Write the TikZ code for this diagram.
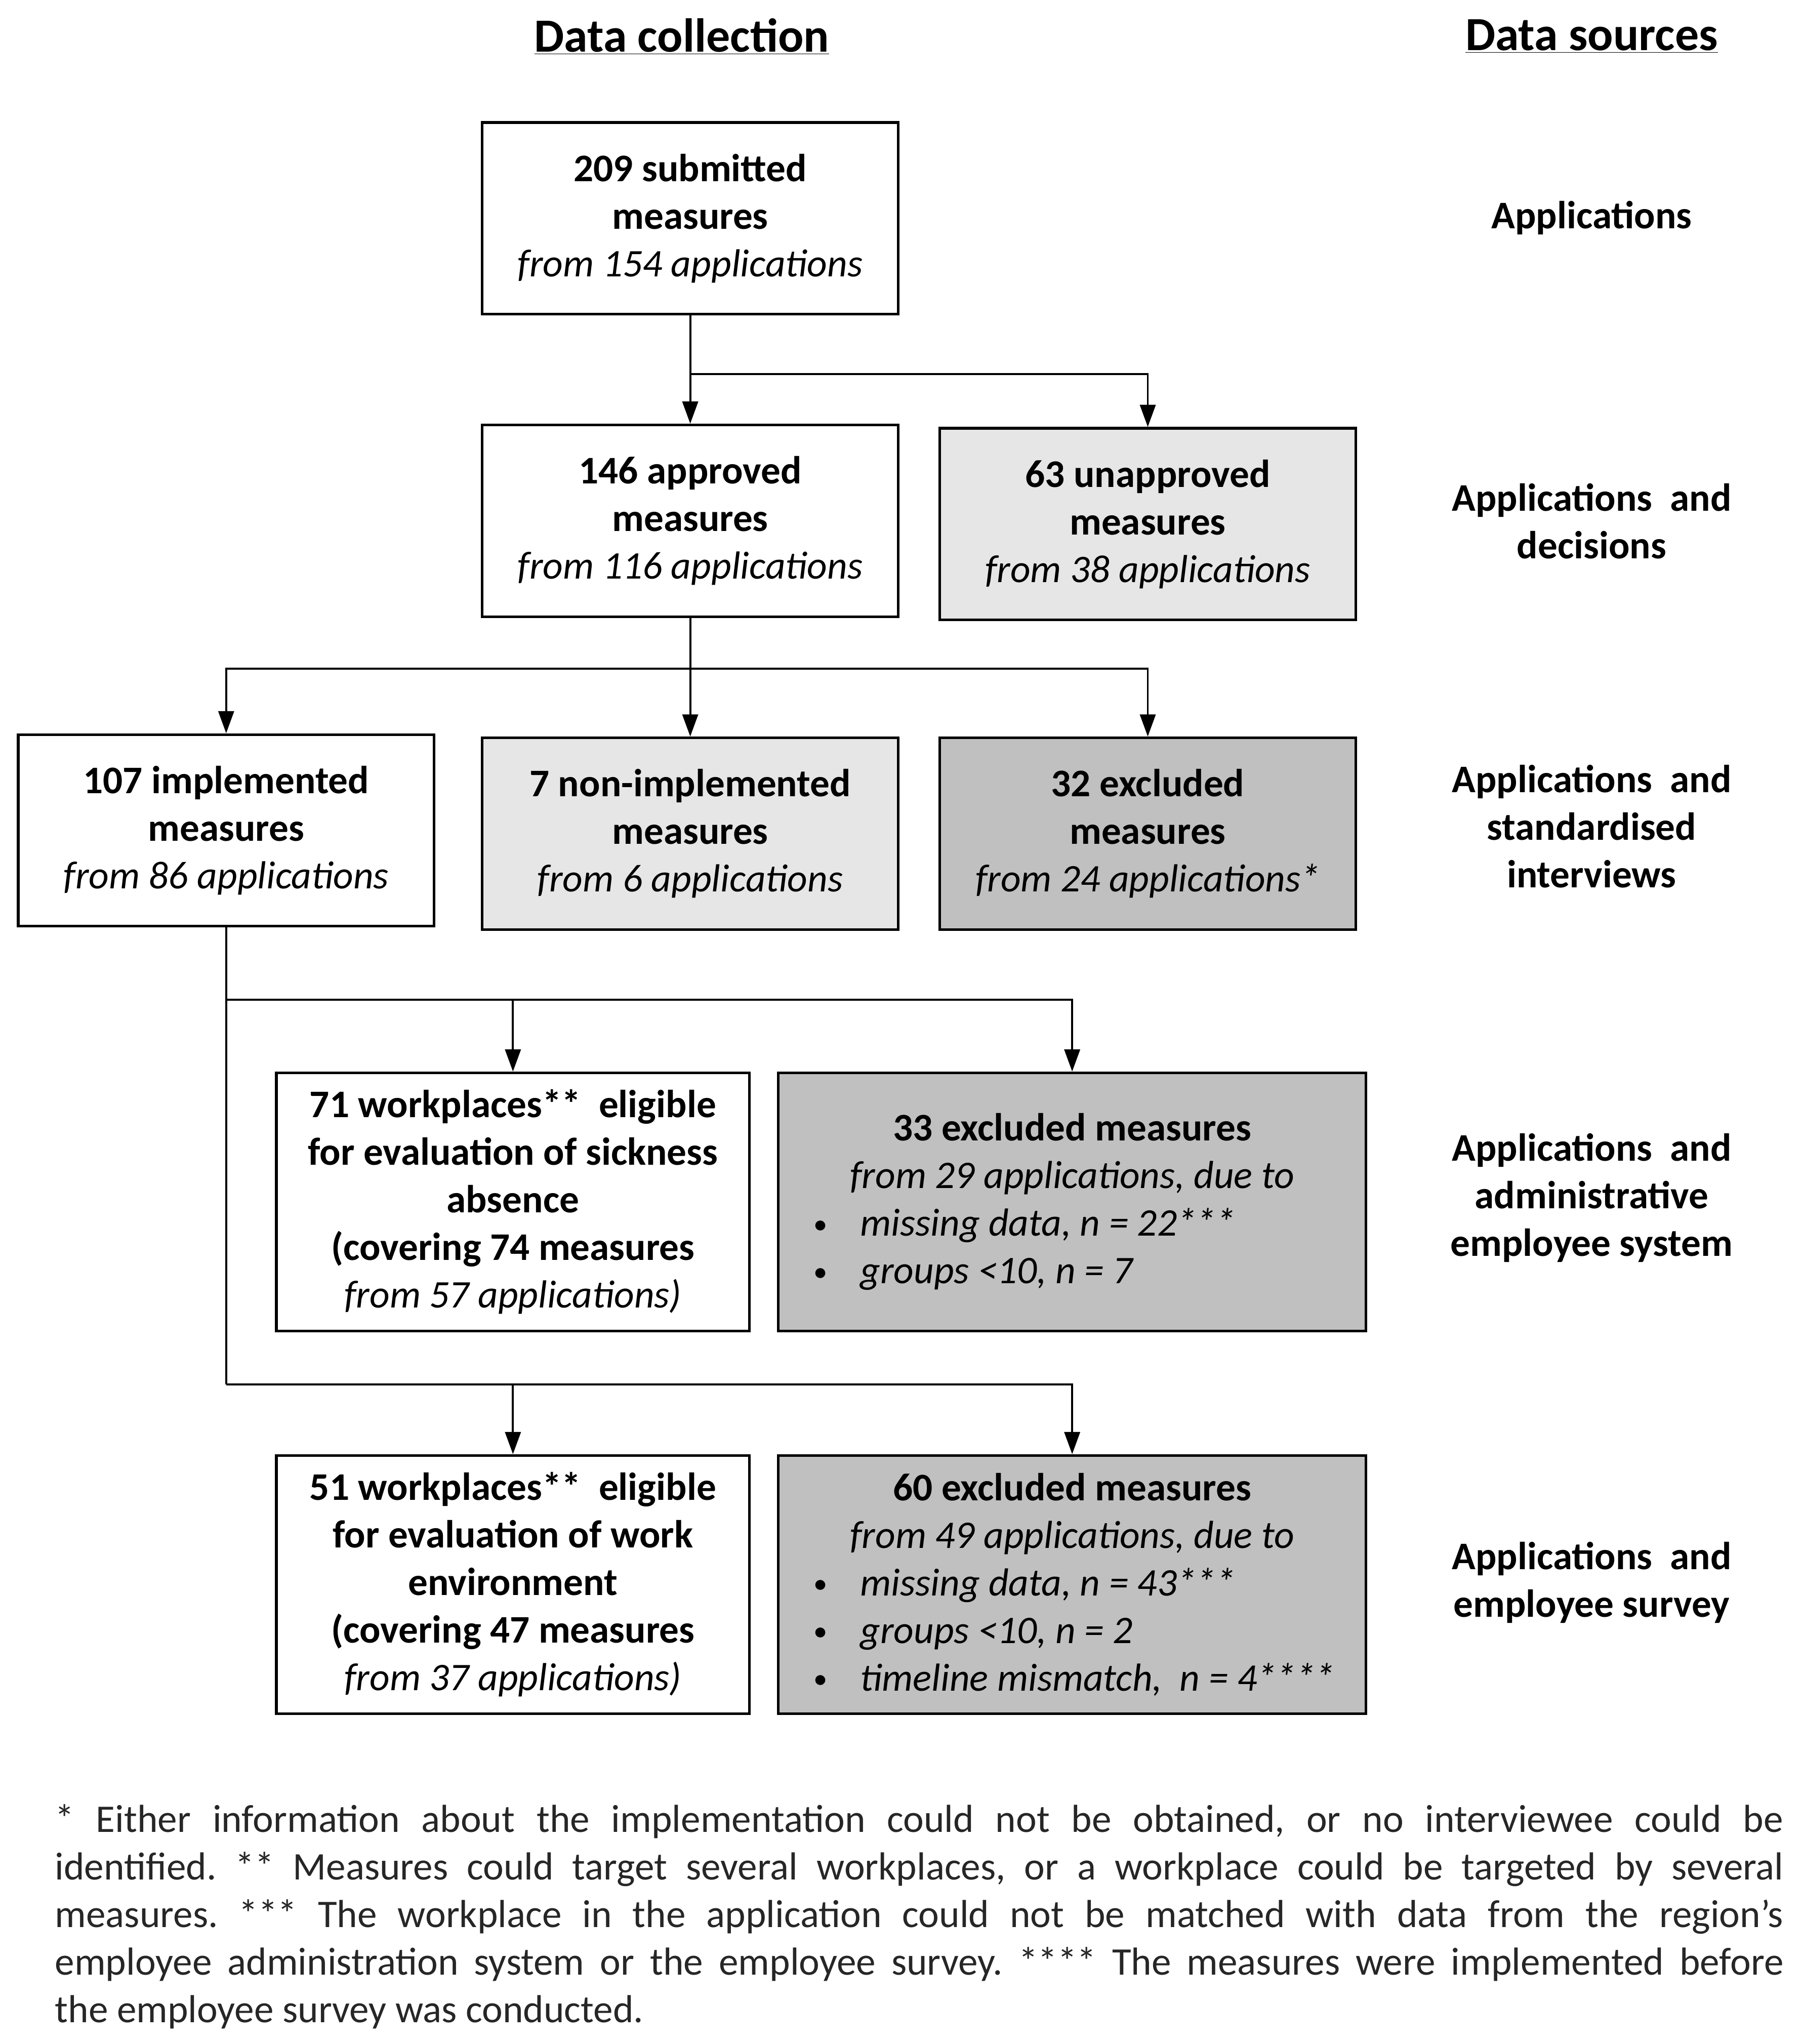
\documentclass[tikz,border=0pt]{standalone}
\usepackage{fontspec}
\setmainfont{Carlito}
\usetikzlibrary{arrows.meta,positioning}
\definecolor{lightfill}{RGB}{230,230,230}
\definecolor{darkfill}{RGB}{192,192,192}
\newcommand{\fromapp}[1]{{\normalfont\itshape #1}}
\newcommand{\bitem}[1]{\makebox[395pt][l]{\makebox[35pt][l]{\raisebox{3pt}{\fontsize{18}{18}\selectfont\textbullet}}\fromapp{#1}}}

\begin{document}
\begin{tikzpicture}[x=1pt,y=-1pt,
    every node/.style={font=\fontsize{30}{36.5}\selectfont},
    box/.style={draw, line width=2pt, align=center, inner sep=0pt,
      font=\fontsize{30}{36.5}\selectfont\bfseries,
      minimum width=319pt, minimum height=147pt},
    widebox/.style={box, minimum width=363pt, minimum height=198pt},
    exclbox/.style={box, minimum width=451pt, minimum height=198pt, fill=darkfill},
    sourcelbl/.style={align=center, font=\fontsize{30}{36.5}\selectfont\bfseries},
    header/.style={font=\fontsize{36.5}{40}\selectfont\bfseries},
    arr/.style={line width=1.5pt, -{Triangle[length=17pt,width=12pt]}},
    link/.style={line width=1.5pt}]

    \fill[white] (0,0) rectangle (1382,1568);
    \useasboundingbox (0,0) rectangle (1382,1568);

    % headers
    \node[header] (hcoll) at (523,28) {\underline{Data collection}};
    \node[header] (hsrc) at (1221,28) {\underline{Data sources}};

    % flow boxes
    \node[box] (submitted) at (529.5,167.5) {209 submitted\\measures\\\fromapp{from 154 applications}};
    \node[box] (approved) at (529.5,399.5) {146 approved\\measures\\\fromapp{from 116 applications}};
    \node[box, fill=lightfill] (unapproved) at (880.5,402) {63 unapproved\\measures\\\fromapp{from 38 applications}};
    \node[box] (implemented) at (173.5,637) {107 implemented\\measures\\\fromapp{from 86 applications}};
    \node[box, fill=lightfill] (nonimpl) at (529.5,639.5) {7 non-implemented\\measures\\\fromapp{from 6 applications}};
    \node[box, fill=darkfill] (excluded) at (880.5,639.5) {32 excluded\\measures\\\fromapp{from 24 applications*}};
    \node[widebox] (sickness) at (393.5,922) {71 workplaces**\ \ eligible\\for evaluation of sickness\\absence\\(covering 74 measures\\\fromapp{from 57 applications)}};
    \node[exclbox] (exclsick) at (822.5,922) {33 excluded measures\\\fromapp{from 29 applications, due to}\\\bitem{missing data, n = 22***}\\\bitem{groups <10, n = 7}};
    \node[widebox] (workenv) at (393.5,1215.5) {51 workplaces**\ \ eligible\\for evaluation of work\\environment\\(covering 47 measures\\\fromapp{from 37 applications)}};
    \node[exclbox] (exclwork) at (822.5,1215.5) {60 excluded measures\\\fromapp{from 49 applications, due to}\\\bitem{missing data, n = 43***}\\\bitem{groups <10, n = 2}\\\bitem{timeline mismatch,\ \ n = 4****}};

    % data sources
    \node[sourcelbl] (s1) at (1221,167) {Applications};
    \node[sourcelbl] (s2) at (1221,400) {Applications\ \ and\\decisions};
    \node[sourcelbl] (s3) at (1221,634) {Applications\ \ and\\standardised\\interviews};
    \node[sourcelbl] (s4) at (1221,919) {Applications\ \ and\\administrative\\employee system};
    \node[sourcelbl] (s5) at (1221,1214) {Applications\ \ and\\employee survey};

    % connectors
    \coordinate (j1) at (529.5,287);
    \coordinate (j2) at (529.5,513);
    \coordinate (j3) at (173.5,767);
    \coordinate (j4) at (173.5,1062);

    \draw[arr] (submitted.south) -- (approved.north);
    \draw[arr] (j1) -| (unapproved.north);
    \draw[arr] (approved.south) -- (nonimpl.north);
    \draw[arr] (j2) -| (implemented.north);
    \draw[arr] (j2) -| (excluded.north);
    \draw[link] (implemented.south) -- (j4);
    \draw[arr] (j3) -| (exclsick.north);
    \draw[arr] (sickness.north |- j3) -- (sickness.north);
    \draw[arr] (j4) -| (exclwork.north);
    \draw[arr] (workenv.north |- j4) -- (workenv.north);

    % footnotes
    \node[anchor=north west, text width=1326pt, align=justify, inner sep=0pt,
      font=\fontsize{30}{36.5}\selectfont\frenchspacing\color{black!85}] (notes) at (42,1384)
      {* Either information about the implementation could not be obtained, or no interviewee could be\linebreak
       identified. ** Measures could target several workplaces, or a workplace could be targeted by several\linebreak
       measures. *** The workplace in the application could not be matched with data from the region’s\linebreak
       employee administration system or the employee survey. **** The measures were implemented before\linebreak
       the employee survey was conducted.};
\end{tikzpicture}
\end{document}
